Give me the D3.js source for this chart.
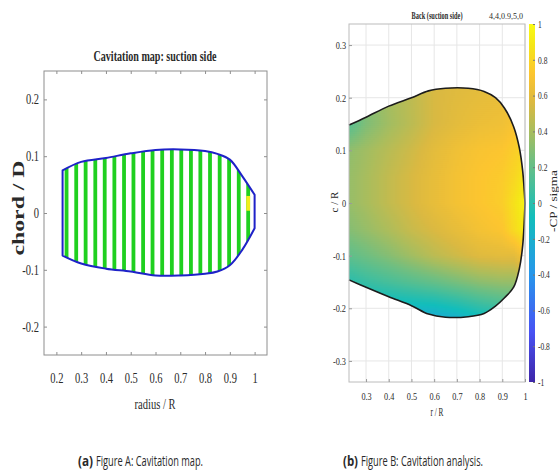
<!DOCTYPE html>
<html>
<head>
<meta charset="utf-8">
<script src="https://cdn.jsdelivr.net/npm/d3@7"></script>
<style>
body{margin:0;background:#fff;}
svg{display:block;}
text{font-family:"Liberation Serif","Times New Roman",serif;fill:#2a2a2a;}
</style>
</head>
<body>
<svg id="fig" width="559" height="472"></svg>
<script>
// ---------- (a) cavitation map, suction side ----------
var mapRadius = [0.225, 0.3, 0.4, 0.5, 0.6, 0.7, 0.8, 0.85, 0.9, 0.95, 1.0];
var mapBack   = [0.075, 0.09, 0.097, 0.105, 0.111, 0.112, 0.109, 0.104, 0.094, 0.065, 0.032];
var mapFace   = [-0.075, -0.089, -0.098, -0.103, -0.11, -0.11, -0.107, -0.103, -0.092, -0.065, -0.027];
// computed strips (one per radial section)
var stripeRadius = [0.241, 0.280, 0.318, 0.357, 0.395, 0.434, 0.473, 0.511, 0.550, 0.588,
		    0.627, 0.666, 0.704, 0.743, 0.781, 0.820, 0.859, 0.897, 0.936, 0.974];
// cavitating cells : radius, chord from / to
var cavRadius = [0.974];
var cavFrom   = [0.004];
var cavTo     = [0.030];
var mapXTicks = [0.2, 0.3, 0.4, 0.5, 0.6, 0.7, 0.8, 0.9, 1];
var mapYTicks = [-0.2, -0.1, 0, 0.1, 0.2];

// ---------- (b) -CP/sigma on back side ----------
var bladeR    = [0.225, 0.3, 0.4, 0.5, 0.575, 0.65, 0.75, 0.82, 0.87, 0.91, 0.95, 0.975, 0.99, 1.0];
var bladeBack = [0.148, 0.163, 0.184, 0.2, 0.213, 0.218, 0.218, 0.212, 0.2, 0.18, 0.145, 0.105, 0.06, 0.0];
var bladeFace = [-0.146, -0.16, -0.178, -0.195, -0.211, -0.217, -0.216, -0.21, -0.196, -0.18, -0.16, -0.125, -0.08, 0.0];
// -CP/sigma read on a coarse grid (rows top -> bottom)
var gridR = [0.225, 0.3, 0.4, 0.5, 0.6, 0.7, 0.8, 0.9, 0.95, 1.0];
var gridZ = [0.22, 0.15, 0.1, 0.05, 0, -0.05, -0.1, -0.15, -0.22];
var cpGrid = [
    [0.20, 0.30, 0.40, 0.47, 0.55, 0.58, 0.60, 0.62, 0.65, 0.70],
    [0.15, 0.28, 0.38, 0.46, 0.55, 0.60, 0.64, 0.66, 0.70, 0.75],
    [0.33, 0.38, 0.45, 0.52, 0.60, 0.66, 0.70, 0.72, 0.76, 0.80],
    [0.35, 0.40, 0.48, 0.55, 0.62, 0.68, 0.72, 0.75, 0.80, 0.88],
    [0.35, 0.40, 0.48, 0.55, 0.62, 0.68, 0.72, 0.76, 0.85, 0.95],
    [0.30, 0.35, 0.42, 0.50, 0.56, 0.62, 0.68, 0.72, 0.82, 0.92],
    [0.18, 0.23, 0.30, 0.38, 0.46, 0.52, 0.58, 0.60, 0.60, 0.70],
    [0.00, 0.05, 0.10, 0.15, 0.20, 0.26, 0.32, 0.35, 0.35, 0.45],
    [-0.25, -0.25, -0.25, -0.25, -0.25, -0.20, -0.12, -0.05, 0.00, 0.10]
];
var bladeXTicks = [0.3, 0.4, 0.5, 0.6, 0.7, 0.8, 0.9, 1];
var bladeYTicks = [-0.3, -0.2, -0.1, 0, 0.1, 0.2, 0.3];
var cbarTicks = [-1, -0.8, -0.6, -0.4, -0.2, 0, 0.2, 0.4, 0.6, 0.8, 1];
// parula colormap
var parulaPos    = [0, 0.14, 0.30, 0.46, 0.62, 0.70, 0.78, 0.86, 0.94, 1];
var parulaColors = ["#3e26a8", "#4852f4", "#2796eb", "#12bebb", "#71bf80", "#a8bd5e", "#dbb941", "#fcc530", "#f5e618", "#f9fb14"];

var svg = d3.select("#fig");
svg.append("rect").attr("width", 559).attr("height", 472).attr("fill", "#fff");
var defs = svg.append("defs");

//squeeze text horizontally (figure is narrowed)
function squeeze(sel, k){
    sel.each(function(){
	var w = this.getComputedTextLength();
	d3.select(this).attr("textLength", w * k).attr("lengthAdjust", "spacingAndGlyphs");
    });
}
function fixWidth(sel, w){
    sel.attr("textLength", w).attr("lengthAdjust", "spacingAndGlyphs");
}
function styleAxis(g, size, color, k){
    g.select(".domain").remove();
    g.selectAll(".tick line").attr("stroke", color);
    var t = g.selectAll(".tick text")
	.style("font-family", "'Liberation Serif',serif")
	.attr("font-size", size)
	.attr("fill", "#333");
    if(k) squeeze(t, k);
}
var fmt = function(d){ return String(d); };
var smooth = d3.curveCatmullRom.alpha(0.5);

/* ------- LEFT PANEL -------*/
var L = {left:44, right:267, top:71, bottom:355};
var xMap = d3.scaleLinear().domain([0.15, 1.05]).range([L.left, L.right]);
var yMap = d3.scaleLinear().domain([-0.25, 0.25]).range([L.bottom, L.top]);
var gMap = svg.append("g").attr("id", "cavitation_map");

var mapRows = mapRadius.map(function(r, i){ return {r:r, back:mapBack[i], face:mapFace[i]}; });
var mapArea = d3.area()
    .x(function(d){ return xMap(d.r); })
    .y0(function(d){ return yMap(d.face); })
    .y1(function(d){ return yMap(d.back); })
    .curve(smooth);

defs.append("clipPath").attr("id", "mapClip").append("path").attr("d", mapArea(mapRows));

var stripes = gMap.append("g").attr("clip-path", "url(#mapClip)");
stripes.selectAll("rect.strip")
    .data(stripeRadius)
    .join("rect")
    .attr("class", "strip")
    .attr("x", function(r){ return xMap(r) - 1.9; })
    .attr("width", 3.8)
    .attr("y", yMap(0.14))
    .attr("height", yMap(-0.14) - yMap(0.14))
    .attr("fill", "#1fd01f");
stripes.selectAll("rect.cav")
    .data(cavRadius)
    .join("rect")
    .attr("class", "cav")
    .attr("x", function(r){ return xMap(r) - 1.9; })
    .attr("width", 3.8)
    .attr("y", function(r, i){ return yMap(cavTo[i]); })
    .attr("height", function(r, i){ return yMap(cavFrom[i]) - yMap(cavTo[i]); })
    .attr("fill", "#f2ee1a");

gMap.append("path")
    .attr("d", mapArea(mapRows))
    .attr("fill", "none")
    .attr("stroke", "#1e22c8")
    .attr("stroke-width", 2)
    .attr("stroke-linejoin", "round");

gMap.append("rect")
    .attr("x", L.left).attr("y", L.top)
    .attr("width", L.right - L.left).attr("height", L.bottom - L.top)
    .attr("fill", "none").attr("stroke", "#8e8e8e").attr("stroke-width", 1);

var ax = gMap.append("g").attr("transform", "translate(0," + L.bottom + ")")
    .call(d3.axisBottom(xMap).tickValues(mapXTicks).tickSizeInner(-3).tickSizeOuter(0).tickPadding(18).tickFormat(fmt));
styleAxis(ax, 14, "#8e8e8e", 0.75);
ax = gMap.append("g").attr("transform", "translate(0," + L.top + ")")
    .call(d3.axisTop(xMap).tickValues(mapXTicks).tickSizeInner(-3).tickSizeOuter(0).tickFormat(""));
styleAxis(ax, 14, "#8e8e8e");
ax = gMap.append("g").attr("transform", "translate(" + L.left + ",0)")
    .call(d3.axisLeft(yMap).tickValues(mapYTicks).tickSizeInner(-3).tickSizeOuter(0).tickPadding(5).tickFormat(fmt));
styleAxis(ax, 14, "#8e8e8e", 0.75);
ax = gMap.append("g").attr("transform", "translate(" + L.right + ",0)")
    .call(d3.axisRight(yMap).tickValues(mapYTicks).tickSizeInner(-3).tickSizeOuter(0).tickFormat(""));
styleAxis(ax, 14, "#8e8e8e");

gMap.append("text").attr("x", 155).attr("y", 61)
    .attr("text-anchor", "middle").attr("font-size", 15).attr("font-weight", "bold").attr("fill", "#1a1a1a")
    .text("Cavitation map: suction side").call(fixWidth, 123);
gMap.append("text").attr("x", 155).attr("y", 409)
    .attr("text-anchor", "middle").attr("font-size", 15)
    .text("radius / R").call(fixWidth, 41);
gMap.append("text").attr("transform", "translate(24,208) rotate(-90)")
    .attr("text-anchor", "middle").attr("font-size", 16).attr("font-weight", "bold")
    .text("chord / D").call(fixWidth, 95);

/* ------- RIGHT PANEL -------*/
var R = {left:349, right:525, top:24, bottom:382};
var xBlade = d3.scaleLinear().domain([0.225, 1.0]).range([R.left, R.right]);
var yBlade = d3.scaleLinear().domain([-0.34, 0.34]).range([R.bottom, R.top]);
var cScale = d3.scaleLinear()
    .domain(parulaPos.map(function(p){ return -1 + 2 * p; }))
    .range(parulaColors)
    .clamp(true);
var gBlade = svg.append("g").attr("id", "cp_analysis");

//grid
gBlade.append("g").selectAll("line")
    .data(bladeXTicks).join("line")
    .attr("x1", function(d){ return xBlade(d); }).attr("x2", function(d){ return xBlade(d); })
    .attr("y1", R.top).attr("y2", R.bottom)
    .attr("stroke", "#e6e6e6");
gBlade.append("g").selectAll("line")
    .data(bladeYTicks).join("line")
    .attr("y1", function(d){ return yBlade(d); }).attr("y2", function(d){ return yBlade(d); })
    .attr("x1", R.left).attr("x2", R.right)
    .attr("stroke", "#e6e6e6");

var bladeRows = bladeR.map(function(r, i){ return {r:r, back:bladeBack[i], face:bladeFace[i]}; });
var bladeArea = d3.area()
    .x(function(d){ return xBlade(d.r); })
    .y0(function(d){ return yBlade(d.face); })
    .y1(function(d){ return yBlade(d.back); })
    .curve(smooth);
defs.append("clipPath").attr("id", "bladeClip").append("path").attr("d", bladeArea(bladeRows));

function locate(arr, v){
    var lo = d3.min(arr), hi = d3.max(arr);
    v = Math.max(lo, Math.min(hi, v));
    var i = 0;
    for(; i < arr.length - 2; ++i){
	if((v - arr[i]) * (v - arr[i + 1]) <= 0) break;
    }
    return [i, (v - arr[i]) / (arr[i + 1] - arr[i])];
}
function cpAt(r, z){
    var a = locate(gridR, r), b = locate(gridZ, z);
    var i = a[0], s = a[1], j = b[0], t = b[1];
    var top = cpGrid[j][i] * (1 - s) + cpGrid[j][i + 1] * s;
    var bot = cpGrid[j + 1][i] * (1 - s) + cpGrid[j + 1][i + 1] * s;
    return top * (1 - t) + bot * t;
}
// interpolated shading of the grid
var cells = [];
var step = 2;
for(var px = R.left; px < R.right; px += step){
    for(var py = yBlade(0.23); py < yBlade(-0.23); py += step){
	cells.push({x:px, y:py, v:cpAt(xBlade.invert(px + step / 2), yBlade.invert(py + step / 2))});
    }
}
gBlade.append("g").attr("clip-path", "url(#bladeClip)")
    .selectAll("rect").data(cells).join("rect")
    .attr("x", function(d){ return d.x; }).attr("y", function(d){ return d.y; })
    .attr("width", step + 0.6).attr("height", step + 0.6)
    .attr("fill", function(d){ return cScale(d.v); });

var edge = d3.line().curve(smooth);
gBlade.append("path")
    .attr("d", edge(bladeRows.map(function(d){ return [xBlade(d.r), yBlade(d.back)]; })))
    .attr("fill", "none").attr("stroke", "#1c1c1c").attr("stroke-width", 1.6);
gBlade.append("path")
    .attr("d", edge(bladeRows.map(function(d){ return [xBlade(d.r), yBlade(d.face)]; })))
    .attr("fill", "none").attr("stroke", "#1c1c1c").attr("stroke-width", 1.6);

gBlade.append("rect")
    .attr("x", R.left).attr("y", R.top)
    .attr("width", R.right - R.left).attr("height", R.bottom - R.top)
    .attr("fill", "none").attr("stroke", "#bcbcbc");

ax = gBlade.append("g").attr("transform", "translate(0," + R.bottom + ")")
    .call(d3.axisBottom(xBlade).tickValues(bladeXTicks).tickSizeInner(-3).tickSizeOuter(0).tickPadding(10).tickFormat(fmt));
styleAxis(ax, 11, "#9a9a9a", 0.75);
ax = gBlade.append("g").attr("transform", "translate(" + R.left + ",0)")
    .call(d3.axisLeft(yBlade).tickValues(bladeYTicks).tickSizeInner(-3).tickSizeOuter(0).tickPadding(3).tickFormat(fmt));
styleAxis(ax, 11, "#9a9a9a", 0.75);

//colorbar
var cb = {x:529, w:6};
var cbY = d3.scaleLinear().domain([-1, 1]).range([R.bottom, R.top]);
var grad = defs.append("linearGradient").attr("id", "parulaGrad")
    .attr("x1", 0).attr("y1", 1).attr("x2", 0).attr("y2", 0);
grad.selectAll("stop").data(parulaColors).join("stop")
    .attr("offset", function(c, i){ return parulaPos[i]; })
    .attr("stop-color", function(c){ return c; });
gBlade.append("rect")
    .attr("x", cb.x).attr("y", R.top).attr("width", cb.w).attr("height", R.bottom - R.top)
    .attr("fill", "url(#parulaGrad)");
ax = gBlade.append("g").attr("transform", "translate(" + (cb.x + cb.w) + ",0)")
    .call(d3.axisRight(cbY).tickValues(cbarTicks).tickSizeInner(-2).tickSizeOuter(0).tickPadding(3).tickFormat(fmt));
styleAxis(ax, 10, "#777", 0.75);

gBlade.append("text").attr("x", 437).attr("y", 19)
    .attr("text-anchor", "middle").attr("font-size", 10).attr("font-weight", "bold").attr("fill", "#1a1a1a")
    .text("Back  (suction side)").call(fixWidth, 51);
gBlade.append("text").attr("x", 489).attr("y", 19)
    .attr("font-size", 8).attr("fill", "#bdbdbd")
    .text("4,4,0.9,5,0").call(fixWidth, 34);
gBlade.append("text").attr("x", 437).attr("y", 416)
    .attr("text-anchor", "middle").attr("font-size", 12)
    .text("r / R").call(fixWidth, 13);
gBlade.append("text").attr("transform", "translate(338,202) rotate(-90)")
    .attr("text-anchor", "middle").attr("font-size", 11)
    .text("c / R");
gBlade.append("text").attr("transform", "translate(557,201) rotate(-90)")
    .attr("text-anchor", "middle").attr("font-size", 11)
    .text("-CP / sigma").call(fixWidth, 62);

/* ------- CAPTIONS -------*/
function caption(x0, x1, tag, rest){
    var f = "'Open Sans','Liberation Sans',sans-serif";
    svg.append("text").attr("x", x0).attr("y", 466)
	.attr("font-size", 15).attr("font-weight", "bold").style("font-family", f)
	.text(tag).call(fixWidth, 15);
    svg.append("text").attr("x", x0 + 18).attr("y", 466)
	.attr("font-size", 15).style("font-family", f)
	.text(rest).call(fixWidth, x1 - x0 - 18);
}
caption(78, 203, "(a)", "Figure A: Cavitation map.");
caption(343, 483, "(b)", "Figure B: Cavitation analysis.");
</script>
</body>
</html>
